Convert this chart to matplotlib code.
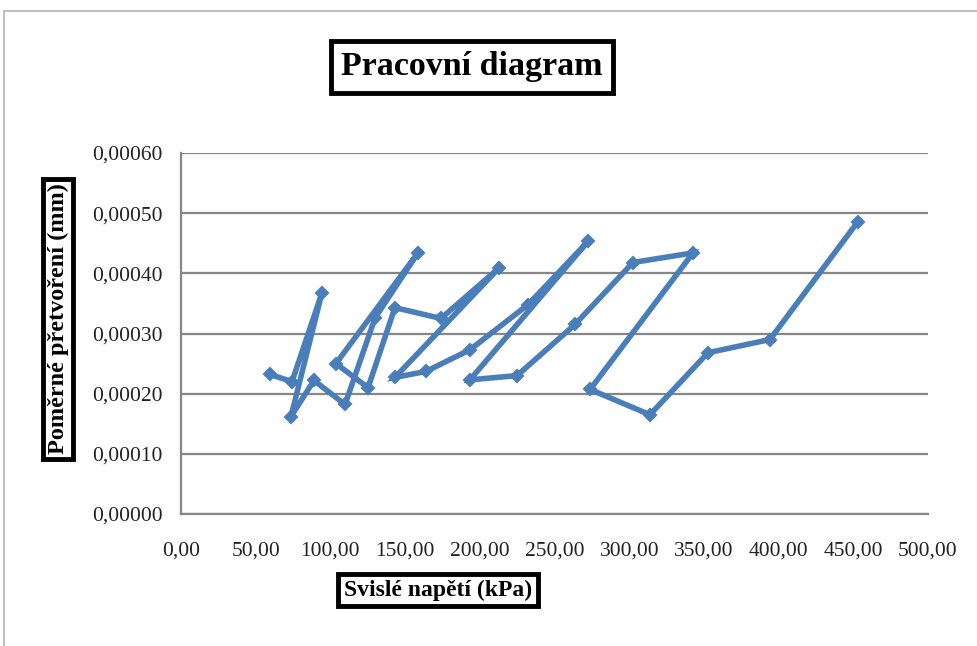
import matplotlib.pyplot as plt
from matplotlib.patches import Rectangle
from matplotlib.ticker import FuncFormatter

# svislé napětí [kPa] a poměrné přetvoření, v pořadí měření
napeti = [59.6, 74.3, 94.4, 73.6, 89.0, 109.8, 129.9, 158.6, 103.7, 125.2,
          143.2, 174.0, 212.9, 143.2, 164.0, 193.4, 232.3, 272.4, 193.4, 224.9,
          263.7, 302.5, 342.7, 273.8, 313.9, 352.7, 394.2, 453.1]
pretvoreni = [0.000232, 0.000220, 0.000368, 0.000162, 0.000222, 0.000182,
              0.000326, 0.000434, 0.000250, 0.000210, 0.000343, 0.000325,
              0.000409, 0.000227, 0.000237, 0.000273, 0.000348, 0.000453,
              0.000223, 0.000230, 0.000315, 0.000418, 0.000434, 0.000207,
              0.000165, 0.000268, 0.000290, 0.000486]

x_ticks = [0, 50, 100, 150, 200, 250, 300, 350, 400, 450, 500]
y_ticks = [0, 0.0001, 0.0002, 0.0003, 0.0004, 0.0005, 0.0006]

blue = '#4a7ebb'
grid = '#868686'
serif = ['Liberation Serif', 'DejaVu Serif']

fig = plt.figure(figsize=(9.78, 6.46), dpi=100)
ax = fig.add_axes([181/978, 1-514/646, (928-181)/978, (514-153)/646])

# okraj grafu (vlevo a nahoře)
fig.patches.append(Rectangle((4/978, -0.1), 1.2, (646-11)/646 + 0.1,
                             transform=fig.transFigure, fill=False,
                             edgecolor='#b4b4b4', linewidth=1.2))

ax.plot(napeti, pretvoreni, color=blue, linewidth=4, marker='D',
        markersize=6, markeredgewidth=1.5, markeredgecolor=blue,
        solid_joinstyle='miter')

ax.set_xlim(0, 500)
ax.set_ylim(0, 0.0006)
ax.set_xticks(x_ticks)
ax.set_yticks(y_ticks)
ax.xaxis.set_major_formatter(FuncFormatter(lambda v, p: f'{v:.2f}'.replace('.', ',')))
ax.yaxis.set_major_formatter(FuncFormatter(lambda v, p: f'{v:.5f}'.replace('.', ',')))
ax.tick_params(length=0, labelsize=15.5)
ax.tick_params(axis='x', pad=20)
ax.tick_params(axis='y', pad=13)
for lab in ax.get_xticklabels() + ax.get_yticklabels():
    lab.set_family(serif)
    lab.set_color('#222222')

ax.grid(axis='y', color=grid, linewidth=1.6)
ax.set_axisbelow(True)
for s in ['top', 'right']:
    ax.spines[s].set_visible(False)
for s in ['left', 'bottom']:
    ax.spines[s].set_color(grid)
    ax.spines[s].set_linewidth(1.6)

box = dict(boxstyle='square,pad=0.3', facecolor='white', edgecolor='black', linewidth=3.5)
fig.text(472/978, 1-67/646, 'Pracovní diagram', ha='center', va='center',
         fontsize=24.5, fontweight='bold', family=serif, bbox=box)
fig.text(58/978, 1-319/646, 'Poměrné přetvoření (mm)', ha='center', va='center',
         rotation=90, fontsize=17.5, fontweight='bold', family=serif,
         bbox=dict(box, boxstyle='square,pad=0.2'))
fig.text(438/978, 1-590/646, 'Svislé napětí (kPa)', ha='center', va='center',
         fontsize=17, fontweight='bold', family=serif,
         bbox=dict(box, boxstyle='square,pad=0.25'))

fig.savefig('out.png', dpi=100)
